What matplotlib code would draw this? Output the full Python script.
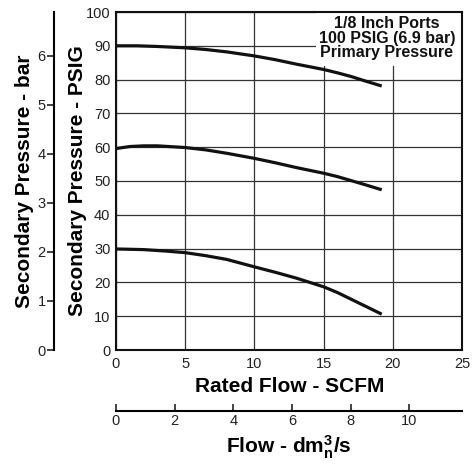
import matplotlib
matplotlib.use("Agg")
import matplotlib.pyplot as plt
from matplotlib.patches import Rectangle

plt.rcParams['font.family'] = ['Liberation Sans', 'DejaVu Sans']
plt.rcParams['mathtext.fontset'] = 'custom'
plt.rcParams['mathtext.rm'] = 'Liberation Sans'
plt.rcParams['mathtext.bf'] = 'Liberation Sans:bold'
plt.rcParams['mathtext.it'] = 'Liberation Sans:italic'

# ---- data ----
flow_90 = [0, 1.5, 3, 5, 6.5, 8, 10, 11.5, 13, 15, 16, 17, 18, 19.2]
psig_90 = [90.0, 90.0, 89.8, 89.4, 88.9, 88.2, 87.0, 85.9, 84.6, 83.0, 82.0, 80.9, 79.6, 78.1]

flow_60 = [0, 1, 2, 3, 5, 6.5, 8, 10, 11.5, 13, 15, 16, 17, 18, 19.2]
psig_60 = [59.6, 60.2, 60.4, 60.4, 59.9, 59.2, 58.2, 56.7, 55.4, 54.0, 52.3, 51.3, 50.1, 48.9, 47.4]

flow_30 = [0, 2, 3.5, 5, 6.5, 8, 10, 11.5, 13, 15, 16, 17, 18, 19.2]
psig_30 = [29.9, 29.7, 29.3, 28.8, 27.9, 26.8, 24.6, 23.0, 21.3, 18.7, 17.0, 15.0, 13.0, 10.6]

scfm_ticks = [0, 5, 10, 15, 20, 25]
psig_ticks = [0, 10, 20, 30, 40, 50, 60, 70, 80, 90, 100]
bar_ticks = [0, 1, 2, 3, 4, 5, 6]
dm3_ticks = [0, 2, 4, 6, 8, 10]

PSI_PER_BAR = 14.5038
DM3S_PER_SCFM = 0.4719

note = "1/8 Inch Ports\n100 PSIG (6.9 bar)\nPrimary Pressure"

# ---- figure ----
fig = plt.figure(figsize=(4.72, 4.68), dpi=100)
ax = fig.add_axes([116/472, 118/468, 346/472, 338/468])

ax.set_xlim(0, 25)
ax.set_ylim(0, 100)
ax.set_xticks(scfm_ticks)
ax.set_yticks(psig_ticks)
ax.set_axisbelow(True)
ax.grid(True, color='#333333', linewidth=0.9)
for s in ax.spines.values():
    s.set_linewidth(1.5)
    s.set_color('#111111')
ax.tick_params(axis='both', length=0, labelsize=10.5, colors='#222222')
ax.tick_params(axis='y', pad=4)
ax.tick_params(axis='x', pad=5)

for fx, py in [(flow_90, psig_90), (flow_60, psig_60), (flow_30, psig_30)]:
    ax.plot(fx, py, color='#111111', linewidth=2.3, solid_capstyle='butt', zorder=3)

ax.set_xlabel('Rated Flow - SCFM', fontsize=15, fontweight='bold', va='center')
ax.xaxis.set_label_coords(0.501, (350 - 387) / 338)
ax.set_ylabel('Secondary Pressure - PSIG', fontsize=15, fontweight='bold', va='center')
ax.yaxis.set_label_coords((78 - 116) / 346, 0.5)

# white box behind the note
ax.add_patch(Rectangle(((316 - 116) / 346, (350 - 66) / 338), 1 - (316 - 116) / 346,
                       1 - (350 - 66) / 338, transform=ax.transAxes,
                       facecolor='white', edgecolor='none', zorder=1.5))
ax.text((387 - 116) / 346, (350 - 38) / 338, note, transform=ax.transAxes,
        ha='center', va='center', fontsize=11.5, fontweight='bold',
        linespacing=0.95, color='#111111', zorder=4)

# secondary bar axis
sec_y = ax.secondary_yaxis((54 - 116) / 346,
                           functions=(lambda p: p / PSI_PER_BAR, lambda b: b * PSI_PER_BAR))
sec_y.set_yticks(bar_ticks)
sec_y.tick_params(direction='out', length=5, width=1.2, labelsize=10.5, pad=1, colors='#222222')
sec_y.spines['left'].set_linewidth(1.5)
sec_y.set_ylabel('Secondary Pressure - bar', fontsize=15, fontweight='bold', va='center')
sec_y.yaxis.set_label_coords((24 - 116) / 346, 0.5, transform=ax.transAxes)

# secondary flow axis
sec_x = ax.secondary_xaxis((350 - 411) / 338,
                           functions=(lambda s: s * DM3S_PER_SCFM, lambda d: d / DM3S_PER_SCFM))
sec_x.set_xticks(dm3_ticks)
sec_x.tick_params(direction='in', length=5, width=1.2, labelsize=10.5, pad=2, colors='#222222')
sec_x.spines['bottom'].set_linewidth(1.5)
sec_x.set_xlabel(r'Flow - dm$^{\mathbf{3}}_{\mathbf{n}}$/s', fontsize=15, fontweight='bold')

fig.savefig('out.png', dpi=100)
